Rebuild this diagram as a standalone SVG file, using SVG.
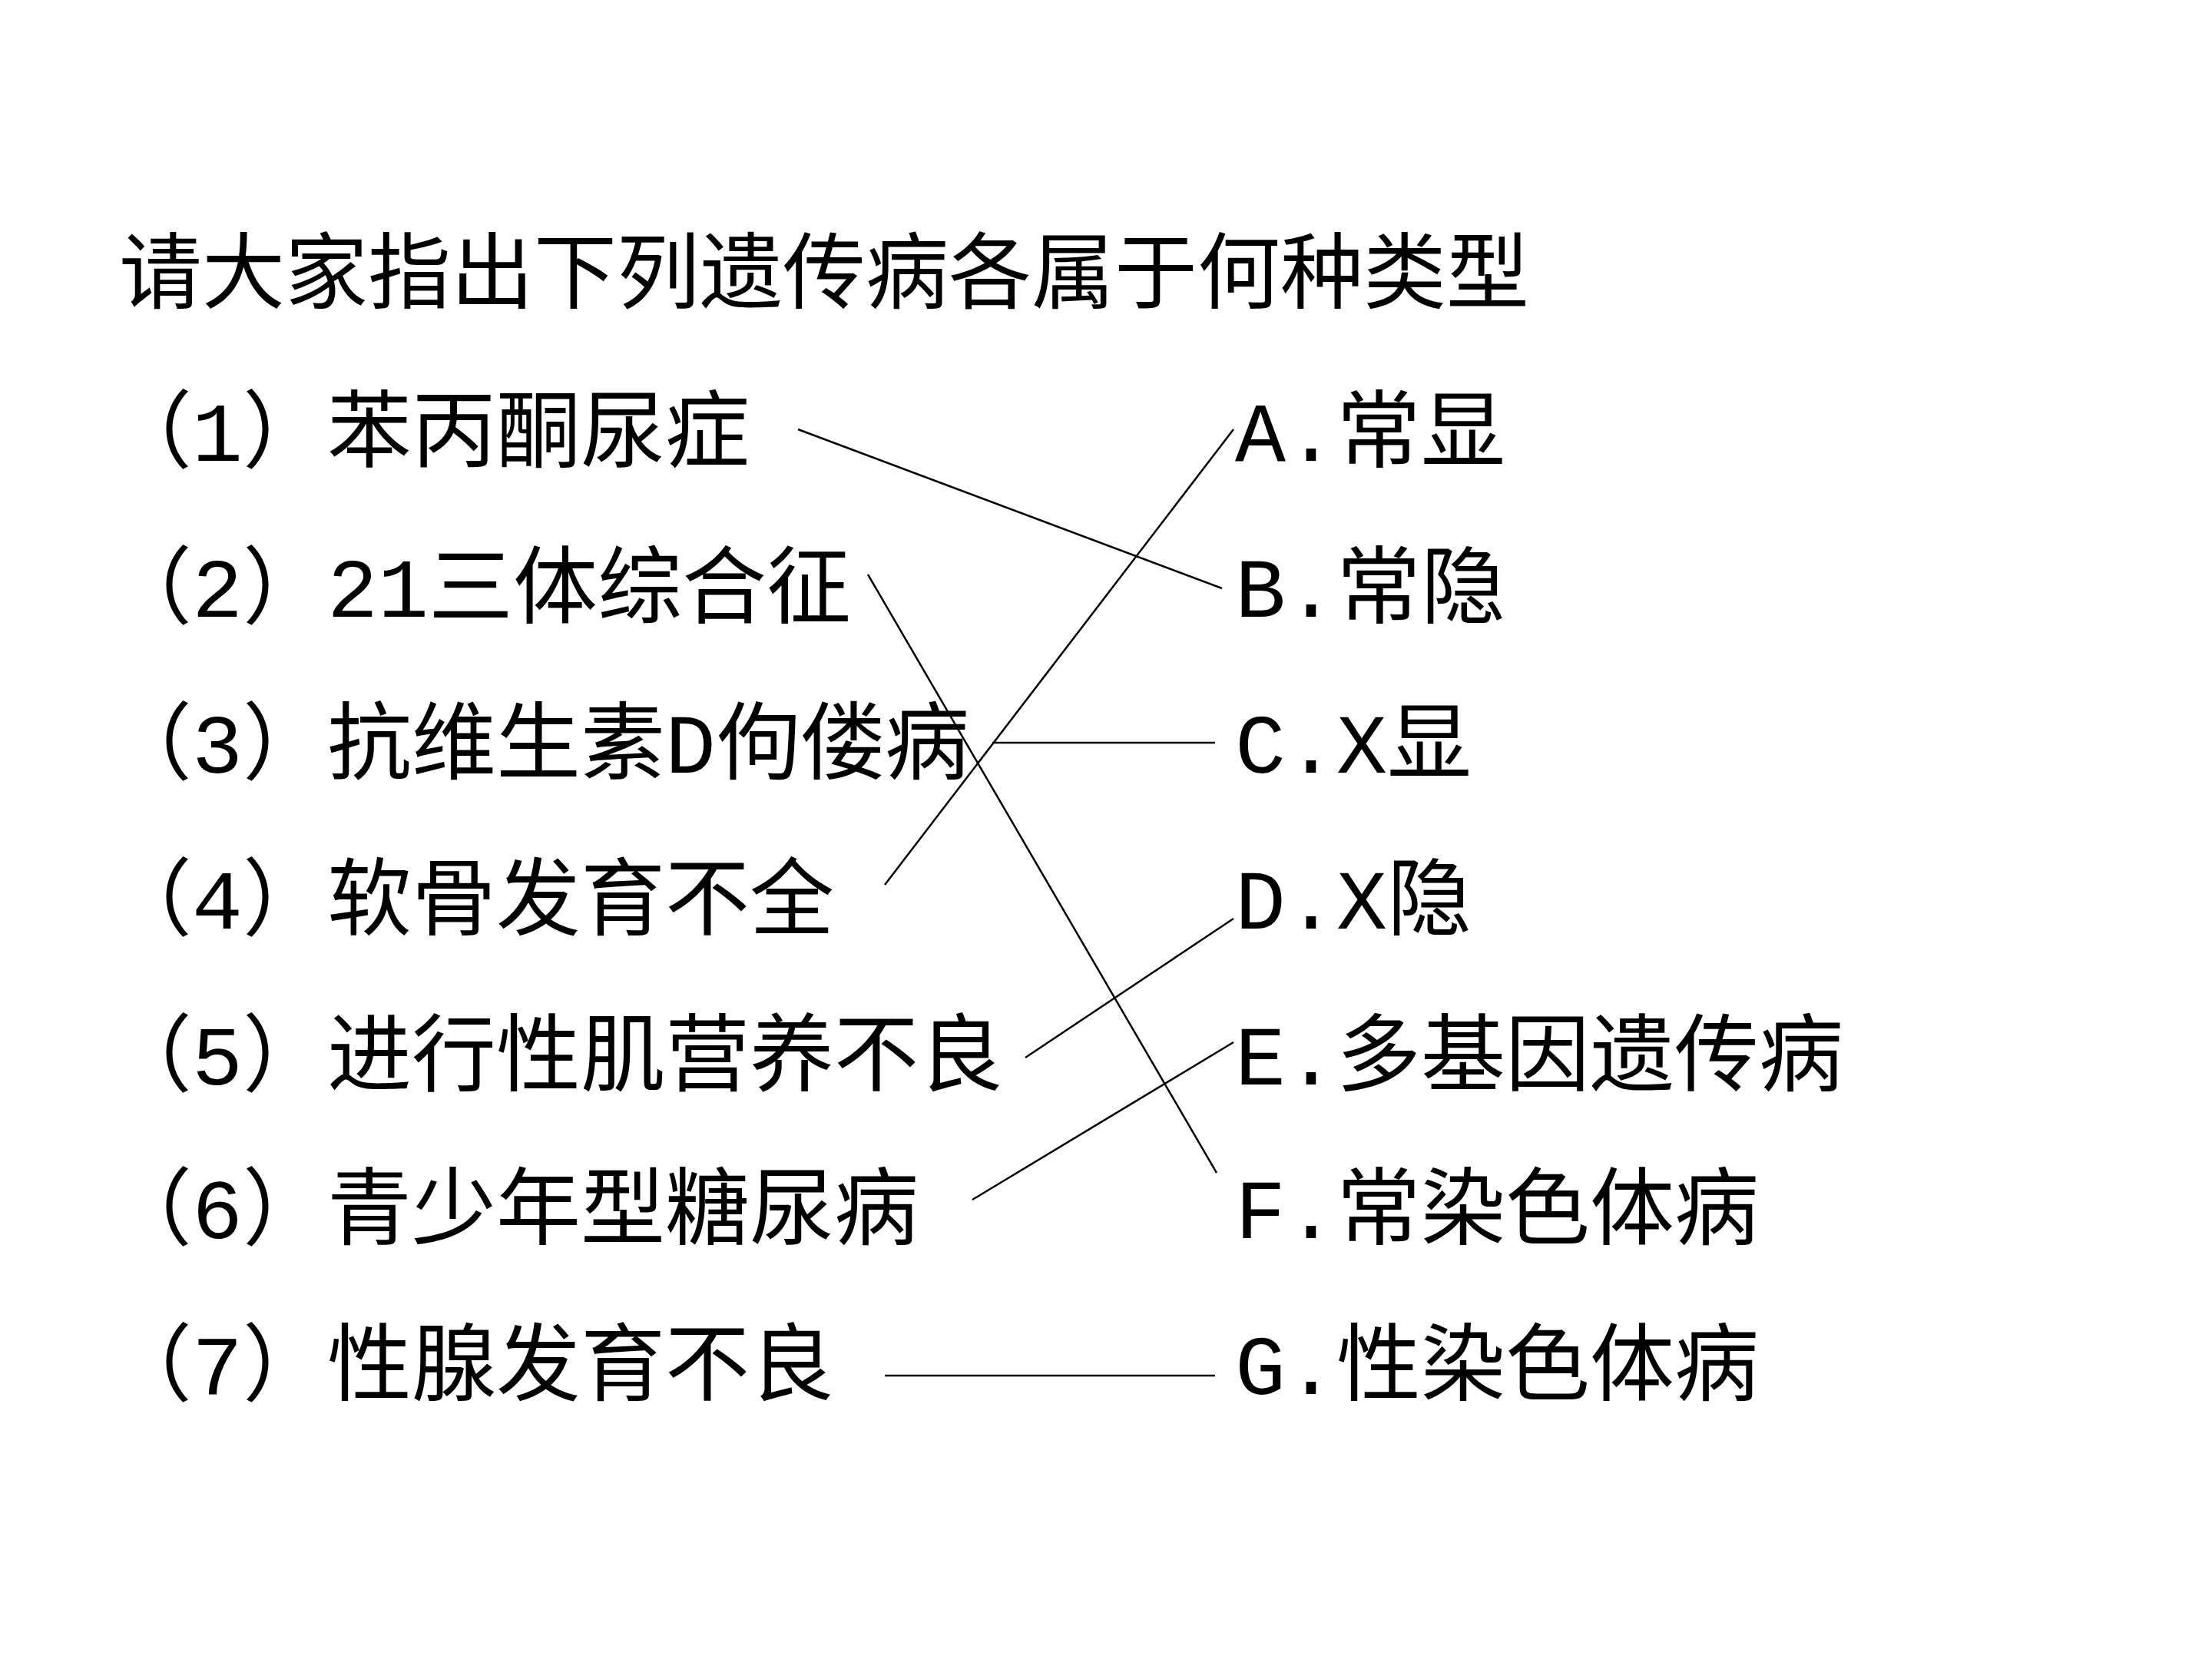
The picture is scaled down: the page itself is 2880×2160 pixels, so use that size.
<svg xmlns="http://www.w3.org/2000/svg" width="2880" height="2160" viewBox="0 0 2880 2160">
<style>
text{font-family:"Liberation Mono","Noto Sans CJK SC",monospace;fill:#000}
.t{font-size:108px}
.r{font-size:110px}
line{stroke:#000;stroke-width:2.5}
</style>
<rect width="2880" height="2160" fill="#fff"/>
<g id="title"><text class="t" x="155" y="393">请大家指出下列遗传病各属于何种类型</text></g>
<g id="n1"><text class="r" x="140" y="600">（1）苯丙酮尿症</text></g>
<g id="n2"><text class="r" x="140" y="803">（2）21三体综合征</text></g>
<g id="n3"><text class="r" x="140" y="1006">（3）抗维生素D佝偻病</text></g>
<g id="n4"><text class="r" x="140" y="1209">（4）软骨发育不全</text></g>
<g id="n5"><text class="r" x="140" y="1412">（5）进行性肌营养不良</text></g>
<g id="n6"><text class="r" x="140" y="1612">（6）青少年型糖尿病</text></g>
<g id="n7"><text class="r" x="140" y="1815">（7）性腺发育不良</text></g>
<g id="A"><text class="r" x="1608" y="600">A.常显</text></g>
<g id="B"><text class="r" x="1608" y="803">B.常隐</text></g>
<g id="C"><text class="r" x="1608" y="1006">C.X显</text></g>
<g id="D"><text class="r" x="1608" y="1209">D.X隐</text></g>
<g id="E"><text class="r" x="1608" y="1412">E.多基因遗传病</text></g>
<g id="F"><text class="r" x="1608" y="1612">F.常染色体病</text></g>
<g id="G"><text class="r" x="1608" y="1815">G.性染色体病</text></g>
<g id="connectors">
<line x1="1039" y1="559" x2="1591" y2="766"/>
<line x1="1130" y1="748" x2="1584" y2="1527"/>
<line x1="1292" y1="967" x2="1582" y2="967"/>
<line x1="1152" y1="1152" x2="1606" y2="559"/>
<line x1="1335" y1="1377" x2="1606" y2="1196"/>
<line x1="1266" y1="1562" x2="1606" y2="1357"/>
<line x1="1152" y1="1791" x2="1582" y2="1791"/>
</g>
</svg>
